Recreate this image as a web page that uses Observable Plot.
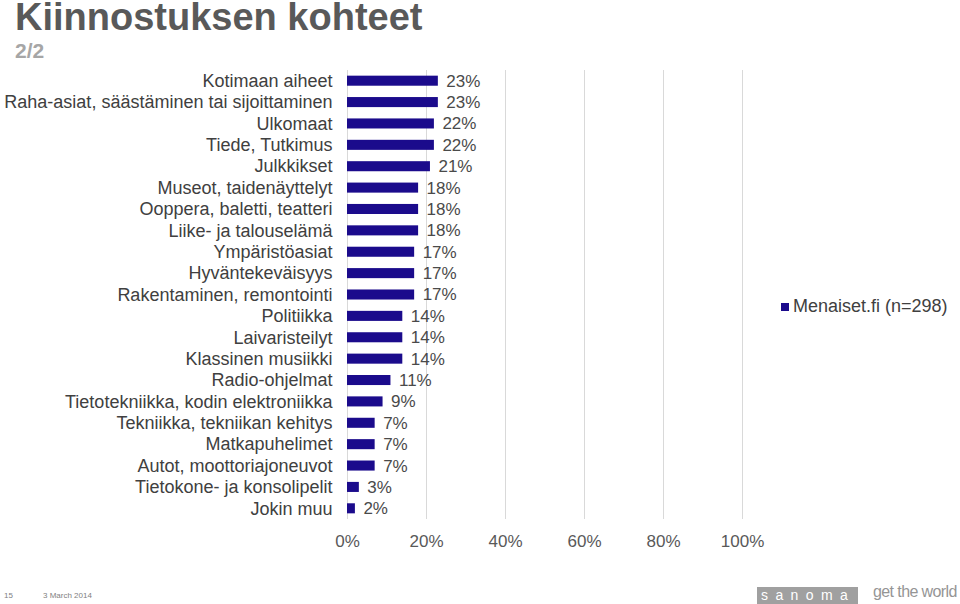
<!DOCTYPE html>
<html>
<head>
<meta charset="utf-8">
<script src="https://cdn.jsdelivr.net/npm/d3@7"></script>
<script src="https://cdn.jsdelivr.net/npm/@observablehq/plot@0.6"></script>
<style>
  html, body { margin: 0; padding: 0; background: #fff; }
  body { width: 960px; height: 604px; position: relative; overflow: hidden; font-family: "Liberation Sans", Arial, sans-serif; }
  #title { position: absolute; left: 15px; top: 2px; font-size: 38px; line-height: 30px; font-weight: bold; color: #595959; white-space: nowrap; }
  #subtitle { position: absolute; left: 15px; top: 39px; font-size: 21px; font-weight: bold; color: #a6a6a6; }
  #chart { position: absolute; left: 0; top: 0; }
  #legend { position: absolute; left: 781px; top: 296px; font-size: 18px; color: #404040; display: flex; align-items: center; white-space: nowrap; }
  #legend .sw { width: 8px; height: 8px; background: #1b0b8c; margin-right: 4px; }
  #pg { position: absolute; left: 4px; top: 591px; font-size: 8px; color: #7f7f7f; }
  #date { position: absolute; left: 43px; top: 591px; font-size: 8px; color: #7f7f7f; }
  #logo { position: absolute; left: 757px; top: 587px; width: 101px; height: 17px; background: #a0a0a0; }
  #logotext { position: absolute; left: 761px; top: 587px; color: #fff; font-size: 14px; letter-spacing: 7.4px; line-height: 17px; white-space: nowrap; }
  #gtw { position: absolute; left: 873px; top: 583px; font-size: 16px; color: #959595; letter-spacing: -0.6px; }
</style>
</head>
<body>
<div id="chart"></div>
<div id="title">Kiinnostuksen kohteet</div>
<div id="subtitle">2/2</div>
<div id="legend"><div class="sw"></div><span>Menaiset.fi (n=298)</span></div>
<div id="pg">15</div>
<div id="date">3 March 2014</div>
<div id="logo"></div>
<div id="logotext">sanoma</div>
<div id="gtw">get the world</div>
<script>
const categories = [
  "Kotimaan aiheet",
  "Raha-asiat, säästäminen tai sijoittaminen",
  "Ulkomaat",
  "Tiede, Tutkimus",
  "Julkkikset",
  "Museot, taidenäyttelyt",
  "Ooppera, baletti, teatteri",
  "Liike- ja talouselämä",
  "Ympäristöasiat",
  "Hyväntekeväisyys",
  "Rakentaminen, remontointi",
  "Politiikka",
  "Laivaristeilyt",
  "Klassinen musiikki",
  "Radio-ohjelmat",
  "Tietotekniikka, kodin elektroniikka",
  "Tekniikka, tekniikan kehitys",
  "Matkapuhelimet",
  "Autot, moottoriajoneuvot",
  "Tietokone- ja konsolipelit",
  "Jokin muu"
];
const values = [23, 23, 22, 22, 21, 18, 18, 18, 17, 17, 17, 14, 14, 14, 11, 9, 7, 7, 7, 3, 2];
const xTicks = [0, 20, 40, 60, 80, 100];
const seriesName = "Menaiset.fi (n=298)";

const data = categories.map((c, i) => ({category: c, value: values[i] / 100, label: values[i] + "%"}));

const chart = Plot.plot({
  width: 960,
  height: 604,
  marginLeft: 347,
  marginRight: 218,
  marginTop: 70,
  marginBottom: 85,
  style: {fontFamily: "'Liberation Sans', Arial, sans-serif", fontSize: "17px", color: "#404040", background: "transparent"},
  x: {domain: [0, 1], ticks: xTicks.map(t => t / 100), tickFormat: d => Math.round(d * 100) + "%", label: null},
  y: {domain: categories, paddingInner: 0.53, paddingOuter: 0.265, round: false, label: null},
  marks: [
    Plot.ruleX(xTicks.map(t => t / 100), {stroke: "#d9d9d9", strokeWidth: 1}),
    Plot.barX(data, {y: "category", x: "value", fill: "#1b0b8c"}),
    Plot.text(data, {y: "category", x: "value", text: "label", textAnchor: "start", dx: 8, fill: "#4a4a4a", fontSize: 17}),
    Plot.axisX({ticks: xTicks.map(t => t / 100), tickFormat: d => Math.round(d * 100) + "%", tickSize: 0, tickPadding: 15, fontSize: 17, color: "#595959", label: null}),
    Plot.axisY({tickSize: 0, tickPadding: 15, fontSize: 18, color: "#404040", label: null})
  ]
});
document.getElementById("chart").appendChild(chart);
</script>
</body>
</html>
